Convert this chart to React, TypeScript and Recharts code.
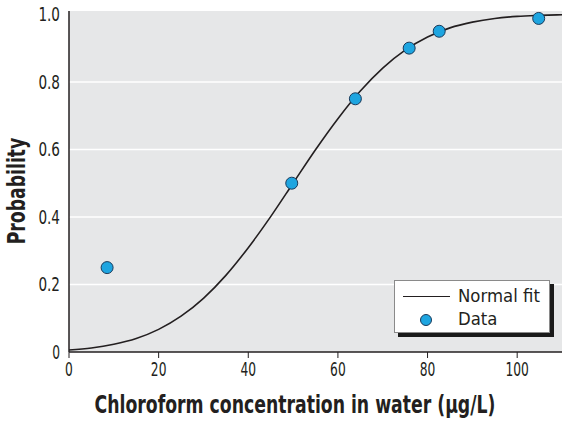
import {
	ComposedChart,
	Line,
	Scatter,
	XAxis,
	YAxis,
	CartesianGrid,
	ReferenceLine,
	Label,
} from 'recharts';

// fitted normal curve
const curveX = [0, 5, 10, 15, 20, 25, 30, 35, 40, 45, 50, 55, 60, 65, 70, 75, 80, 85, 90, 95, 100, 105, 110];
const curveY = [0.006, 0.012, 0.023, 0.04, 0.067, 0.106, 0.159, 0.227, 0.309, 0.401, 0.5, 0.599, 0.691, 0.773, 0.841, 0.894, 0.933, 0.96, 0.977, 0.988, 0.994, 0.997, 0.999];

// observed data points
const dataX = [8.5, 49.7, 63.9, 75.9, 82.6, 104.8];
const dataY = [0.25, 0.5, 0.75, 0.9, 0.95, 0.988];

const xTicks = [0, 20, 40, 60, 80, 100];
const yTicks = [0, 0.2, 0.4, 0.6, 0.8, 1.0];
const gridLines = [0.2, 0.4, 0.6, 0.8];

const curve = curveX.map((x, i) => ({ x, y: curveY[i] }));
const points = dataX.map((x, i) => ({ x, y: dataY[i] }));

const font = "'DejaVu Sans Condensed', 'Roboto', sans-serif";
const ink = '#231f20';
const dotColor = '#1ea5e0';
const dotStroke = '#1a3a5a';

// squeeze text so it looks like the condensed face in the reference
const textWidth = (s: string) =>
	s.split('').reduce((w, c) => w + (c === '.' ? 6 : 7.8), 0);

function XTick({ x, y, payload }: any) {
	const s = String(payload.value);
	return (
		<text x={x} y={y + 16} textAnchor='middle' fill={ink} fontSize={19} fontFamily={font}
			textLength={textWidth(s)} lengthAdjust='spacingAndGlyphs'>
			{s}
		</text>
	);
}

function YTick({ x, y, payload }: any) {
	const v = payload.value as number;
	const s = v === 0 ? '0' : v.toFixed(1);
	return (
		<text x={x - 1} y={y + 7} textAnchor='end' fill={ink} fontSize={19} fontFamily={font}
			textLength={textWidth(s)} lengthAdjust='spacingAndGlyphs'>
			{s}
		</text>
	);
}

function LegendBox() {
	const txt: React.CSSProperties = {
		position: 'absolute',
		left: 63,
		display: 'inline-block',
		transform: 'scaleX(1.02)',
		transformOrigin: 'left center',
		whiteSpace: 'nowrap',
	};
	return (
		<div
			style={{
				position: 'absolute',
				left: 394,
				top: 280,
				width: 156,
				height: 53,
				background: '#fff',
				border: '1px solid #8a8a8a',
				boxShadow: '4px 4px 0 #1a1a1a',
				fontFamily: font,
				fontSize: 18,
				lineHeight: '20px',
				color: ink,
				boxSizing: 'border-box',
			}}
		>
			<div style={{ position: 'absolute', left: 8, top: 15, width: 47, borderTop: '1.5px solid ' + ink }} />
			<div style={{ ...txt, top: 5 }}>Normal fit</div>
			<div
				style={{
					position: 'absolute',
					left: 25,
					top: 33,
					width: 12,
					height: 12,
					borderRadius: '50%',
					background: dotColor,
					border: '1px solid ' + dotStroke,
					boxSizing: 'border-box',
				}}
			/>
			<div style={{ ...txt, top: 28 }}>Data</div>
		</div>
	);
}

export default function App() {
	return (
		<div style={{ position: 'absolute', left: 0, top: 0, width: 569, height: 422, background: '#fff' }}>
			<ComposedChart
				width={569}
				height={422}
				margin={{ top: 11, right: 7, left: 0, bottom: 0 }}
			>
				<CartesianGrid fill='#e6e7e8' horizontal={false} vertical={false} />
				{gridLines.map((v) => (
					<ReferenceLine key={v} y={v} stroke='#ffffff' strokeWidth={1.5} />
				))}
				<XAxis
					dataKey='x'
					type='number'
					domain={[0, 110]}
					ticks={xTicks}
					allowDataOverflow
					height={70}
					axisLine={{ stroke: ink, strokeWidth: 1.5 }}
					tickLine={{ stroke: ink }}
					tickSize={6}
					tick={<XTick />}
				>
					<Label
						content={() => (
							<text x={0} y={0} transform='translate(295 413) scale(0.8 1)' textAnchor='middle' fill={ink}
								fontSize={24} fontWeight='bold' fontFamily={font}>
								Chloroform concentration in water (μg/L)
							</text>
						)}
					/>
				</XAxis>
				<YAxis
					dataKey='y'
					type='number'
					domain={[0, 1.01]}
					ticks={yTicks}
					allowDataOverflow
					width={69}
					axisLine={{ stroke: ink, strokeWidth: 1.5 }}
					tickLine={false}
					tick={<YTick />}
				>
					<Label
						content={() => (
							<text x={0} y={0} transform='translate(25 191) rotate(-90) scale(0.8 1)' textAnchor='middle' fill={ink}
								fontSize={24} fontWeight='bold' fontFamily={font}>
								Probability
							</text>
						)}
					/>
				</YAxis>
				<Line
					data={curve}
					dataKey='y'
					type='monotone'
					stroke={ink}
					strokeWidth={1.6}
					dot={false}
					activeDot={false}
					isAnimationActive={false}
				/>
				<Scatter
					data={points}
					dataKey='y'
					fill={dotColor}
					shape={(p: any) => <circle cx={p.cx} cy={p.cy} r={6} fill={dotColor} stroke={dotStroke} strokeWidth={1} />}
					isAnimationActive={false}
				/>
			</ComposedChart>
			<LegendBox />
		</div>
	);
}
